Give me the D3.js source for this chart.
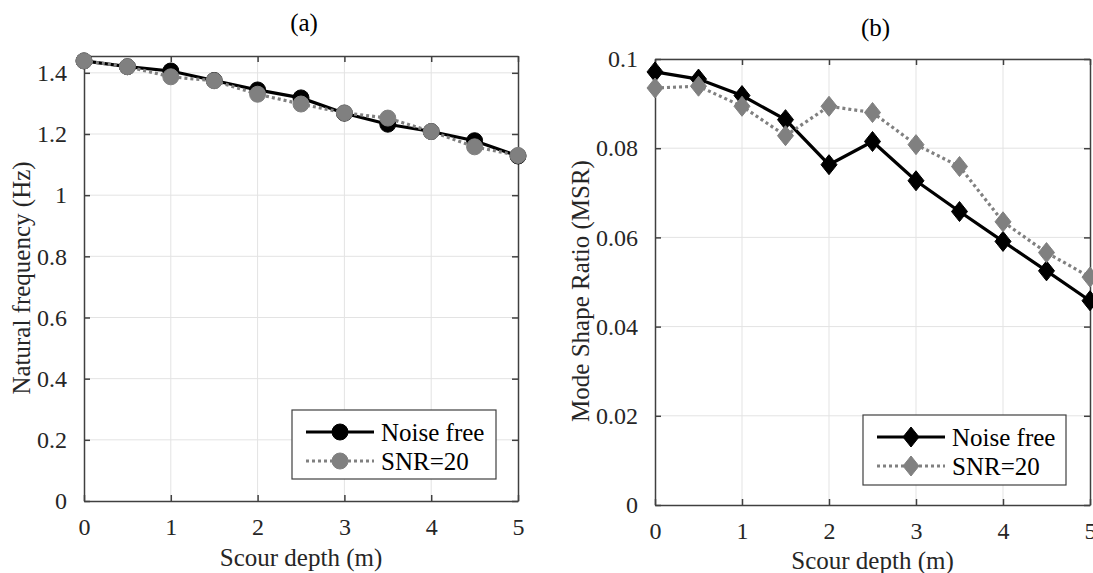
<!DOCTYPE html>
<html>
<head>
<meta charset="utf-8">
<script src="https://cdn.jsdelivr.net/npm/d3@7"></script>
<style>
  body { margin: 0; background: #fff; }
  svg text { font-family: "Liberation Serif", Tinos, "Times New Roman", "DejaVu Serif", serif; }
</style>
</head>
<body>
<div id="chart"></div>
<script>
// scour depth (m)
var depth = [0, 0.5, 1, 1.5, 2, 2.5, 3, 3.5, 4, 4.5, 5];
var xTicks = [0, 1, 2, 3, 4, 5];

// (a) natural frequency (Hz)
var freqNoiseFree = [1.439, 1.420, 1.406, 1.375, 1.344, 1.318, 1.268, 1.232, 1.208, 1.178, 1.128];
var freqSnr20 = [1.439, 1.420, 1.387, 1.374, 1.330, 1.298, 1.269, 1.252, 1.208, 1.158, 1.130];
var freqTicks = [0, 0.2, 0.4, 0.6, 0.8, 1, 1.2, 1.4];

// (b) mode shape ratio
var msrNoiseFree = [0.0971, 0.0955, 0.0918, 0.0864, 0.0763, 0.0815, 0.0727, 0.0658, 0.0591, 0.0525, 0.0458];
var msrSnr20 = [0.0935, 0.0939, 0.0894, 0.0828, 0.0894, 0.0880, 0.0808, 0.0759, 0.0635, 0.0566, 0.0511];
var msrTicks = [0, 0.02, 0.04, 0.06, 0.08, 0.1];

var seriesLabels = ["Noise free", "SNR=20"];

var width = 1093;
var height = 573;
var serif = "'Liberation Serif', Tinos, 'Times New Roman', 'DejaVu Serif', serif";

var svg = d3.select("#chart").append("svg")
    .attr("width", width)
    .attr("height", height);

var axisColor = "#404040";
var gridColor = "#e3e3e3";
var grey = "#808080";

function fmt(v) {
    return String(+v.toFixed(3));
}

function diamond(cx, cy) {
    var w = 8, h = 10;
    return "M" + cx + "," + (cy - h) + "L" + (cx + w) + "," + cy +
        "L" + cx + "," + (cy + h) + "L" + (cx - w) + "," + cy + "Z";
}

function drawMarker(g, shape, cx, cy, color) {
    if (shape === "circle") {
        g.append("circle")
            .attr("cx", cx).attr("cy", cy).attr("r", 8)
            .style("fill", color).style("stroke", color).style("stroke-width", 1);
    } else {
        g.append("path")
            .attr("d", diamond(cx, cy))
            .style("fill", color).style("stroke", color).style("stroke-width", 1);
    }
}

function drawPanel(p) {
    var x = d3.scaleLinear().domain([0, 5]).range([p.left, p.right]);
    var y = d3.scaleLinear().domain(p.yDomain).range([p.bottom, p.top]);

    var g = svg.append("g");

    // grid
    g.selectAll(".vgrid").data(xTicks.slice(1, -1)).enter().append("line")
        .attr("x1", d => x(d)).attr("x2", d => x(d))
        .attr("y1", p.top).attr("y2", p.bottom)
        .style("stroke", gridColor).style("stroke-width", 1);
    g.selectAll(".hgrid").data(p.yTicks.slice(1)).enter().append("line")
        .attr("x1", p.left).attr("x2", p.right)
        .attr("y1", d => y(d)).attr("y2", d => y(d))
        .style("stroke", gridColor).style("stroke-width", 1);

    // axes with inward ticks on all four sides
    var axB = g.append("g").attr("transform", "translate(0," + p.bottom + ")")
        .call(d3.axisBottom(x).tickValues(xTicks).tickSizeInner(-6).tickSizeOuter(0).tickPadding(17).tickFormat(fmt));
    var axT = g.append("g").attr("transform", "translate(0," + p.top + ")")
        .call(d3.axisTop(x).tickValues(xTicks).tickSizeInner(-6).tickSizeOuter(0).tickFormat(""));
    var axL = g.append("g").attr("transform", "translate(" + p.left + ",0)")
        .call(d3.axisLeft(y).tickValues(p.yTicks).tickSizeInner(-6).tickSizeOuter(0).tickPadding(17).tickFormat(fmt));
    var axR = g.append("g").attr("transform", "translate(" + p.right + ",0)")
        .call(d3.axisRight(y).tickValues(p.yTicks).tickSizeInner(-6).tickSizeOuter(0).tickFormat(""));

    [axB, axT, axL, axR].forEach(function(a) {
        a.attr("font-family", serif).attr("font-size", 24);
        a.selectAll("path.domain").style("stroke", axisColor).style("stroke-width", 1.5);
        a.selectAll(".tick line").style("stroke", axisColor).style("stroke-width", 1.5);
        a.selectAll("text").style("fill", "#262626");
    });
    axB.selectAll("text").attr("dy", "0.71em");

    // series: noise free first, SNR=20 drawn on top
    var line = d3.line().x((d, i) => x(depth[i])).y(d => y(d));
    var series = [
        { values: p.noiseFree, color: "#000", dash: null },
        { values: p.snr20, color: grey, dash: "3,3" }
    ];
    series.forEach(function(s) {
        g.append("path")
            .datum(s.values)
            .attr("d", line)
            .style("fill", "none")
            .style("stroke", s.color)
            .style("stroke-width", 3.2)
            .style("stroke-dasharray", s.dash);
        s.values.forEach(function(v, i) {
            drawMarker(g, p.shape, x(depth[i]), y(v), s.color);
        });
    });

    // title
    g.append("text")
        .attr("x", (p.left + p.right) / 2 + 3)
        .attr("y", p.titleY)
        .attr("text-anchor", "middle")
        .style("font-size", "25px").style("fill", "#000")
        .text(p.title);

    // axis labels
    g.append("text")
        .attr("x", (p.left + p.right) / 2)
        .attr("y", p.xLabelY)
        .attr("text-anchor", "middle")
        .style("font-size", "25px").style("fill", "#262626")
        .text("Scour depth (m)");
    g.append("text")
        .attr("transform", "translate(" + p.yLabelX + "," + p.yLabelCy + ") rotate(-90)")
        .attr("text-anchor", "middle")
        .style("font-size", "25px").style("fill", "#262626")
        .text(p.yLabel);

    // legend
    var lg = g.append("g");
    lg.append("rect")
        .attr("x", p.legend.x).attr("y", p.legend.y)
        .attr("width", p.legend.w).attr("height", p.legend.h)
        .style("fill", "#fff").style("stroke", axisColor).style("stroke-width", 1.2);
    series.forEach(function(s, i) {
        var ly = p.legend.y + 22 + i * 29;
        var lx = p.legend.x + 14;
        lg.append("line")
            .attr("x1", lx).attr("x2", lx + 68)
            .attr("y1", ly).attr("y2", ly)
            .style("stroke", s.color).style("stroke-width", 3.2)
            .style("stroke-dasharray", s.dash);
        drawMarker(lg, p.shape, lx + 34, ly, s.color);
        lg.append("text")
            .attr("x", lx + 75).attr("y", ly)
            .attr("dy", "0.35em")
            .style("font-size", "25px").style("fill", "#000")
            .text(seriesLabels[i]);
    });
}

drawPanel({
    left: 84, right: 518, top: 56, bottom: 501,
    yDomain: [0, 1.455], yTicks: freqTicks,
    noiseFree: freqNoiseFree, snr20: freqSnr20,
    shape: "circle",
    title: "(a)", titleY: 31,
    xLabelY: 566, yLabel: "Natural frequency (Hz)", yLabelX: 30, yLabelCy: 278,
    legend: { x: 292, y: 410, w: 204, h: 69 }
});

drawPanel({
    left: 655, right: 1090, top: 59, bottom: 505,
    yDomain: [0, 0.1], yTicks: msrTicks,
    noiseFree: msrNoiseFree, snr20: msrSnr20,
    shape: "diamond",
    title: "(b)", titleY: 36,
    xLabelY: 569, yLabel: "Mode Shape Ratio (MSR)", yLabelX: 589, yLabelCy: 291,
    legend: { x: 863, y: 415, w: 203, h: 70 }
});
</script>
</body>
</html>
